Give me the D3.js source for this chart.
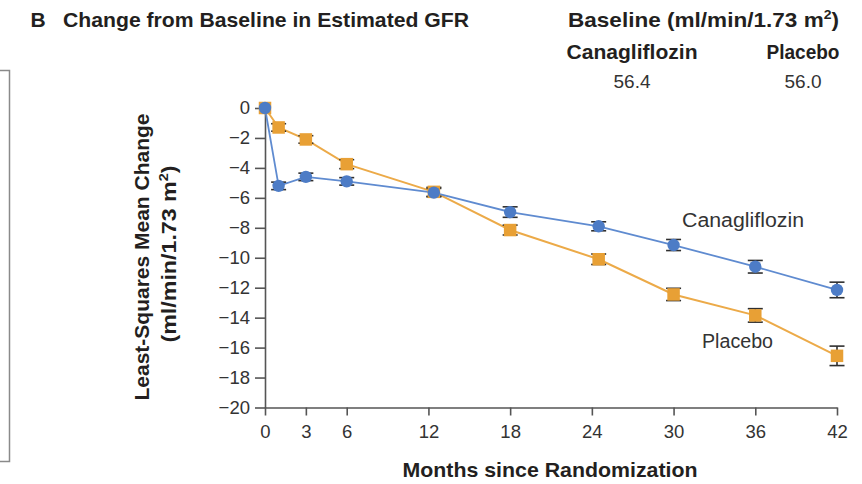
<!DOCTYPE html>
<html>
<head>
<meta charset="utf-8">
<script src="https://cdn.jsdelivr.net/npm/d3@7"></script>
<style>
  html, body { margin: 0; padding: 0; background: #fff; }
  svg { display: block; font-family: "Liberation Sans", Arial, sans-serif; }
</style>
</head>
<body>
<svg id="chart" width="862" height="484"></svg>
<script>
// Visit times (months since randomization)
const months = [0, 1, 3, 6, 12.4, 18, 24.5, 30, 36, 42];

// Least-squares mean change in eGFR (ml/min/1.73 m2) and standard errors
const canaMean    = [0, -5.2, -4.6, -4.9, -5.65, -6.95, -7.9, -9.15, -10.6, -12.15];
const canaErr     = [0, 0.25, 0.25, 0.25, 0.28, 0.35, 0.3, 0.37, 0.42, 0.52];
const placeboMean = [0, -1.3, -2.1, -3.75, -5.6, -8.15, -10.1, -12.45, -13.85, -16.55];
const placeboErr  = [0, 0.25, 0.25, 0.3, 0.3, 0.33, 0.35, 0.41, 0.45, 0.65];

// Axis ticks
const xTicks = [0, 3, 6, 12, 18, 24, 30, 36, 42];
const yTicks = [0, -2, -4, -6, -8, -10, -12, -14, -16, -18, -20];

// Baseline eGFR by group
const groups = ["Canagliflozin", "Placebo"];
const baselineValues = ["56.4", "56.0"];

const svg = d3.select("#chart");
const textColor = "#231f20";
const blue = "#4d7cc6", blueLine = "#5f8bd0";
const orange = "#e8a035", orangeLine = "#ecaa48";

const x = d3.scaleLinear().domain([0, 42]).range([265, 837]);
const y = d3.scaleLinear().domain([-20, 0]).range([407.5, 108]);

// Squeeze or stretch a text run so it spans the given width
function fitWidth(sel, w) {
  sel.attr("textLength", w).attr("lengthAdjust", "spacingAndGlyphs");
  return sel;
}

// Adds "m" + superscript 2 + ")" to a text element
function addM2(sel) {
  sel.append("tspan").text("m");
  sel.append("tspan").attr("font-size", "0.62em").attr("dy", "-0.65em").text("2");
  sel.append("tspan").attr("dy", "0.403em").text(")");
}

// Left frame edge
svg.append("path")
  .attr("d", "M0,70.5H9.5V461.5H0")
  .attr("fill", "none").attr("stroke", "#8a8a8a").attr("stroke-width", 1.5);

// Panel title
svg.append("text").attr("x", 30.5).attr("y", 27)
  .attr("font-size", 21).attr("font-weight", "bold").attr("fill", textColor).text("B");
fitWidth(svg.append("text").attr("x", 63).attr("y", 27)
  .attr("font-size", 21).attr("font-weight", "bold").attr("fill", textColor)
  .text("Change from Baseline in Estimated GFR"), 406);

// Baseline header
const bh = svg.append("text").attr("x", 568).attr("y", 27)
  .attr("font-size", 20.5).attr("font-weight", "bold").attr("fill", textColor);
bh.append("tspan").text("Baseline (ml/min/1.73 ");
addM2(bh);
fitWidth(bh, 271);

const headerX = [632, 803];
const headerW = [131, 73];
groups.forEach((g, i) => {
  fitWidth(svg.append("text").attr("x", headerX[i] - headerW[i] / 2).attr("y", 59)
    .attr("font-size", 20).attr("font-weight", "bold")
    .attr("fill", textColor).text(g), headerW[i]);
  svg.append("text").attr("x", headerX[i]).attr("y", 88)
    .attr("text-anchor", "middle").attr("font-size", 19)
    .attr("fill", "#333").text(baselineValues[i]);
});

// Axes
const yAxis = svg.append("g").attr("transform", `translate(${x(0)},0)`)
  .call(d3.axisLeft(y).tickValues(yTicks).tickSize(10).tickSizeOuter(0).tickPadding(5)
    .tickFormat(d3.format("d")));
const xAxis = svg.append("g").attr("transform", `translate(0,${y(-20)})`)
  .call(d3.axisBottom(x).tickValues(xTicks).tickSize(8).tickSizeOuter(0).tickPadding(9));
[yAxis, xAxis].forEach(a => {
  a.selectAll("path, line").attr("stroke", "#555").attr("stroke-width", 1.6);
  a.selectAll("text").attr("font-size", 18.5).attr("fill", "#333")
    .attr("font-family", "\"Liberation Sans\", Arial, sans-serif");
});

// Axis titles
fitWidth(svg.append("text").attr("x", 402.5).attr("y", 477)
  .attr("font-size", 20.5).attr("font-weight", "bold")
  .attr("fill", textColor).text("Months since Randomization"), 295);

fitWidth(svg.append("text").attr("transform", "translate(149,400.5) rotate(-90)")
  .attr("font-size", 20.5).attr("font-weight", "bold")
  .attr("fill", textColor).text("Least-Squares Mean Change"), 287);
const yt2 = svg.append("text").attr("transform", "translate(176,342.5) rotate(-90)")
  .attr("font-size", 20.5).attr("font-weight", "bold")
  .attr("fill", textColor);
yt2.append("tspan").text("(ml/min/1.73 ");
addM2(yt2);
fitWidth(yt2, 177);

// Series
const cana = months.map((m, i) => ({ m, v: canaMean[i], e: canaErr[i] }));
const plac = months.map((m, i) => ({ m, v: placeboMean[i], e: placeboErr[i] }));

const line = d3.line().x(d => x(d.m)).y(d => y(d.v));
svg.append("path").datum(plac).attr("d", line)
  .attr("fill", "none").attr("stroke", orangeLine).attr("stroke-width", 2);
svg.append("path").datum(cana).attr("d", line)
  .attr("fill", "none").attr("stroke", blueLine).attr("stroke-width", 1.8);

// Error bars
const capW = 7.5;
[plac, cana].forEach(series => {
  const g = svg.append("g").attr("stroke", "#2f2f2f").attr("stroke-width", 1.6);
  series.filter(d => d.e > 0).forEach(d => {
    const cx = x(d.m), y1 = y(d.v + d.e), y2 = y(d.v - d.e);
    g.append("line").attr("x1", cx).attr("x2", cx).attr("y1", y1).attr("y2", y2);
    g.append("line").attr("x1", cx - capW).attr("x2", cx + capW).attr("y1", y1).attr("y2", y1);
    g.append("line").attr("x1", cx - capW).attr("x2", cx + capW).attr("y1", y2).attr("y2", y2);
  });
});

// Markers
const sq = 12.5;
svg.append("g").selectAll("rect").data(plac).join("rect")
  .attr("x", d => x(d.m) - sq / 2).attr("y", d => y(d.v) - sq / 2)
  .attr("width", sq).attr("height", sq).attr("fill", orange);
svg.append("g").selectAll("circle").data(cana).join("circle")
  .attr("cx", d => x(d.m)).attr("cy", d => y(d.v)).attr("r", 6.2).attr("fill", blue);

// Series labels
fitWidth(svg.append("text").attr("x", 682).attr("y", 227)
  .attr("font-size", 20).attr("fill", "#333").text("Canagliflozin"), 122);
fitWidth(svg.append("text").attr("x", 702).attr("y", 348)
  .attr("font-size", 20).attr("fill", "#333").text("Placebo"), 71);
</script>
</body>
</html>
